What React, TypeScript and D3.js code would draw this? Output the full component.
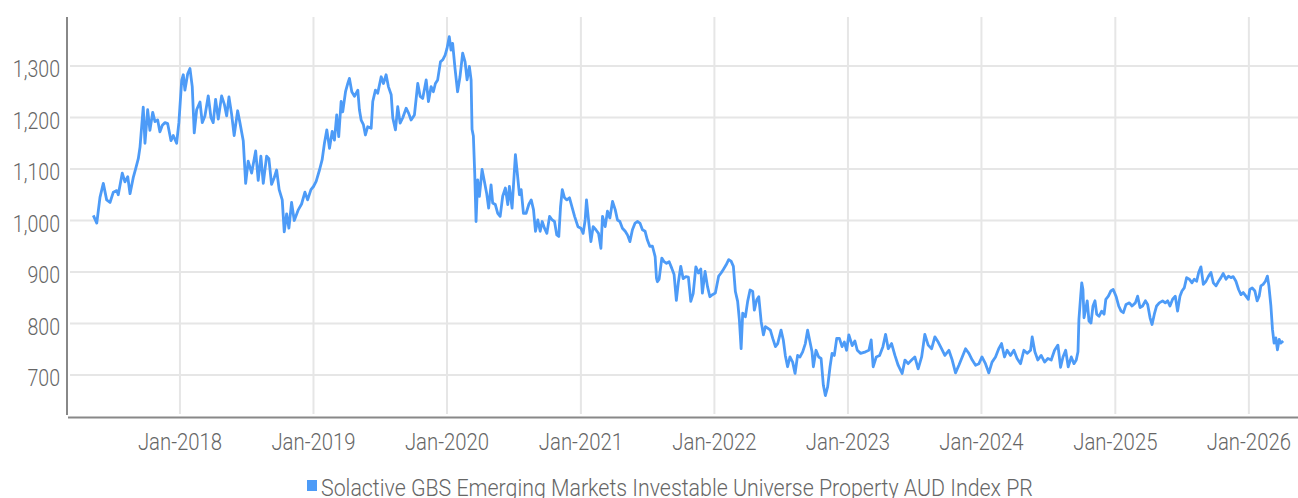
import React from "react";
import * as d3 from "d3";

// Decimal-year / index value pairs, grouped by year
const s2017: [number, number][] = [[2017.351,1010],[2017.377,995],[2017.401,1045],[2017.426,1072],[2017.451,1040],[2017.476,1035],[2017.501,1055],[2017.526,1058],[2017.538,1050],[2017.568,1092],[2017.588,1075],[2017.609,1085],[2017.626,1052],[2017.650,1083],[2017.668,1100],[2017.688,1120],[2017.701,1143],[2017.713,1182],[2017.725,1220],[2017.738,1150],[2017.758,1215],[2017.775,1175],[2017.796,1210],[2017.813,1192],[2017.833,1195],[2017.850,1172],[2017.868,1185],[2017.888,1190],[2017.908,1188],[2017.933,1155],[2017.950,1165],[2017.975,1150],[2017.992,1190]];
const s2018: [number, number][] = [[2018.013,1272],[2018.025,1283],[2018.037,1253],[2018.058,1285],[2018.075,1295],[2018.092,1260],[2018.107,1170],[2018.125,1215],[2018.150,1230],[2018.167,1190],[2018.187,1203],[2018.212,1242],[2018.232,1200],[2018.249,1190],[2018.267,1235],[2018.287,1197],[2018.312,1242],[2018.332,1226],[2018.350,1203],[2018.367,1240],[2018.387,1206],[2018.406,1165],[2018.432,1213],[2018.449,1190],[2018.474,1155],[2018.492,1072],[2018.511,1115],[2018.537,1092],[2018.567,1135],[2018.586,1078],[2018.606,1125],[2018.624,1072],[2018.649,1125],[2018.666,1120],[2018.686,1070],[2018.706,1083],[2018.724,1098],[2018.743,1060],[2018.766,1040],[2018.781,978],[2018.799,1013],[2018.816,985],[2018.836,1035],[2018.856,1000],[2018.885,1020],[2018.911,1032],[2018.936,1055],[2018.956,1040],[2018.981,1060]];
const s2019: [number, number][] = [[2019.000,1066],[2019.020,1076],[2019.045,1098],[2019.065,1118],[2019.082,1150],[2019.100,1176],[2019.120,1140],[2019.140,1173],[2019.157,1156],[2019.174,1205],[2019.189,1163],[2019.207,1231],[2019.219,1211],[2019.240,1250],[2019.257,1266],[2019.269,1276],[2019.287,1250],[2019.307,1241],[2019.332,1253],[2019.344,1215],[2019.357,1195],[2019.374,1186],[2019.389,1166],[2019.406,1182],[2019.432,1179],[2019.444,1231],[2019.464,1253],[2019.481,1247],[2019.507,1279],[2019.524,1266],[2019.544,1283],[2019.561,1260],[2019.582,1244],[2019.594,1199],[2019.614,1176],[2019.631,1221],[2019.649,1189],[2019.668,1199],[2019.694,1218],[2019.713,1208],[2019.731,1195],[2019.756,1205],[2019.781,1266],[2019.799,1241],[2019.818,1237],[2019.844,1273],[2019.861,1231],[2019.881,1260],[2019.898,1250],[2019.913,1266],[2019.930,1273],[2019.951,1308],[2019.968,1312],[2019.986,1321]];
const s2020: [number, number][] = [[2020.000,1334],[2020.017,1357],[2020.030,1331],[2020.042,1344],[2020.060,1295],[2020.079,1250],[2020.097,1279],[2020.117,1325],[2020.135,1308],[2020.150,1273],[2020.167,1299],[2020.180,1273],[2020.187,1177],[2020.197,1164],[2020.207,1092],[2020.217,998],[2020.229,1079],[2020.242,1047],[2020.262,1099],[2020.279,1076],[2020.296,1053],[2020.311,1024],[2020.329,1069],[2020.341,1034],[2020.361,1031],[2020.379,1014],[2020.397,1008],[2020.416,1047],[2020.436,1063],[2020.454,1031],[2020.466,1066],[2020.486,1024],[2020.496,1066],[2020.511,1128],[2020.524,1095],[2020.541,1050],[2020.554,1060],[2020.571,1014],[2020.591,1014],[2020.611,1031],[2020.629,1040],[2020.646,1021],[2020.661,979],[2020.678,1001],[2020.696,979],[2020.711,998],[2020.728,985],[2020.746,975],[2020.766,1008],[2020.786,1001],[2020.803,998],[2020.820,972],[2020.835,969],[2020.848,1027],[2020.861,1060],[2020.878,1044],[2020.895,1040],[2020.915,1044],[2020.936,1024],[2020.953,1008],[2020.978,988]];
const s2021: [number, number][] = [[2021.000,985],[2021.017,975],[2021.032,1001],[2021.042,1040],[2021.057,1001],[2021.075,959],[2021.092,988],[2021.112,982],[2021.132,975],[2021.150,946],[2021.162,1008],[2021.182,988],[2021.199,1018],[2021.217,1005],[2021.237,1037],[2021.257,1021],[2021.274,1001],[2021.292,998],[2021.311,985],[2021.332,979],[2021.349,972],[2021.367,959],[2021.386,982],[2021.406,995],[2021.424,998],[2021.442,995],[2021.461,982],[2021.481,979],[2021.498,962],[2021.516,950],[2021.536,950],[2021.556,930],[2021.566,888],[2021.573,881],[2021.586,886],[2021.606,927],[2021.623,920],[2021.641,917],[2021.661,920],[2021.681,907],[2021.698,895],[2021.715,845],[2021.730,880],[2021.748,911],[2021.766,887],[2021.786,891],[2021.805,890],[2021.823,843],[2021.841,858],[2021.861,910],[2021.880,898],[2021.898,906],[2021.910,859],[2021.930,901],[2021.948,872],[2021.966,852],[2021.985,856]];
const s2022: [number, number][] = [[2022.007,859],[2022.032,892],[2022.050,898],[2022.067,905],[2022.088,914],[2022.107,924],[2022.125,921],[2022.142,911],[2022.157,862],[2022.174,843],[2022.187,807],[2022.200,751],[2022.212,820],[2022.232,813],[2022.249,843],[2022.267,865],[2022.287,862],[2022.299,826],[2022.317,846],[2022.332,852],[2022.350,804],[2022.367,778],[2022.382,794],[2022.399,791],[2022.419,787],[2022.437,771],[2022.457,755],[2022.474,761],[2022.499,787],[2022.516,768],[2022.531,738],[2022.548,716],[2022.566,735],[2022.586,725],[2022.604,703],[2022.623,738],[2022.641,735],[2022.661,745],[2022.681,761],[2022.698,787],[2022.716,764],[2022.731,745],[2022.741,716],[2022.761,748],[2022.781,735],[2022.799,732],[2022.816,680],[2022.831,660],[2022.848,677],[2022.866,716],[2022.881,742],[2022.898,738],[2022.916,771],[2022.936,771],[2022.956,755],[2022.973,764],[2022.990,748]];
const s2023: [number, number][] = [[2023.007,778],[2023.032,757],[2023.052,766],[2023.070,748],[2023.095,742],[2023.132,745],[2023.157,748],[2023.174,768],[2023.189,716],[2023.212,735],[2023.237,738],[2023.262,755],[2023.282,779],[2023.302,751],[2023.327,761],[2023.352,738],[2023.376,719],[2023.406,703],[2023.427,729],[2023.451,722],[2023.477,729],[2023.501,735],[2023.526,712],[2023.552,735],[2023.576,779],[2023.601,758],[2023.627,751],[2023.651,774],[2023.676,764],[2023.701,751],[2023.726,738],[2023.756,748],[2023.781,729],[2023.806,704],[2023.831,719],[2023.856,735],[2023.881,751],[2023.906,742],[2023.931,729],[2023.956,719],[2023.981,722]];
const s2024: [number, number][] = [[2024.004,735],[2024.030,722],[2024.055,704],[2024.079,725],[2024.105,735],[2024.129,751],[2024.150,761],[2024.172,735],[2024.192,748],[2024.217,738],[2024.242,748],[2024.266,732],[2024.292,722],[2024.317,748],[2024.341,742],[2024.367,748],[2024.379,774],[2024.399,745],[2024.421,729],[2024.446,738],[2024.472,725],[2024.496,732],[2024.521,729],[2024.546,748],[2024.571,758],[2024.591,715],[2024.609,735],[2024.629,748],[2024.648,716],[2024.671,735],[2024.691,722],[2024.708,729],[2024.721,745],[2024.728,808],[2024.741,853],[2024.749,879],[2024.758,866],[2024.766,811],[2024.778,827],[2024.790,844],[2024.803,805],[2024.818,801],[2024.833,834],[2024.848,844],[2024.861,818],[2024.878,814],[2024.898,824],[2024.916,818],[2024.929,847],[2024.948,853],[2024.966,863],[2024.984,866]];
const s2025: [number, number][] = [[2025.005,853],[2025.025,834],[2025.043,824],[2025.060,821],[2025.080,837],[2025.105,840],[2025.125,834],[2025.150,840],[2025.167,853],[2025.185,831],[2025.204,834],[2025.225,844],[2025.242,837],[2025.260,811],[2025.275,798],[2025.292,818],[2025.309,834],[2025.329,840],[2025.354,844],[2025.374,840],[2025.392,844],[2025.409,834],[2025.429,847],[2025.449,853],[2025.466,824],[2025.484,853],[2025.499,863],[2025.516,869],[2025.534,889],[2025.554,886],[2025.574,879],[2025.591,886],[2025.609,882],[2025.624,899],[2025.641,910],[2025.659,876],[2025.679,882],[2025.698,892],[2025.716,899],[2025.734,879],[2025.754,873],[2025.773,882],[2025.791,889],[2025.808,897],[2025.829,886],[2025.848,892],[2025.866,889],[2025.883,891],[2025.903,882],[2025.923,866],[2025.941,856],[2025.958,860],[2025.978,853],[2025.996,847]];
const s2026: [number, number][] = [[2026.007,866],[2026.025,869],[2026.045,863],[2026.062,844],[2026.077,853],[2026.090,873],[2026.107,876],[2026.124,882],[2026.139,892],[2026.150,873],[2026.165,834],[2026.177,788],[2026.189,762],[2026.202,772],[2026.214,749],[2026.227,769],[2026.240,762],[2026.257,766]];

const yTicks = [700, 800, 900, 1000, 1100, 1200, 1300];
const xTickYears = [2018, 2019, 2020, 2021, 2022, 2023, 2024, 2025, 2026];
const xDomainYears = [2017.154, 2026.368];
const yDomain = [622.3, 1395.1];
const seriesName = "Solactive GBS Emerging Markets Investable Universe Property AUD Index PR";

const W = 1298;
const H = 498;
const LEFT = 67;
const TOP = 17;
const BOTTOM = 415;
const LINE_COLOR = "#4d9bf7";
const FONT = "Roboto, 'Liberation Sans', sans-serif";
const FS = 24.5;

function yearToDate(t: number): Date {
  const y = Math.floor(t);
  const a = Date.UTC(y, 0, 1);
  const b = Date.UTC(y + 1, 0, 1);
  return new Date(a + (t - y) * (b - a));
}

export default function App() {
  const series = [...s2017, ...s2018, ...s2019, ...s2020, ...s2021, ...s2022, ...s2023, ...s2024, ...s2025, ...s2026];
  const x = d3.scaleUtc().domain(xDomainYears.map(yearToDate)).range([LEFT, W]);
  const y = d3.scaleLinear().domain(yDomain).range([BOTTOM, TOP]);
  const line = d3
    .line<[number, number]>()
    .x((d) => x(yearToDate(d[0])))
    .y((d) => y(d[1]))
    .curve(d3.curveLinear);
  const fmt = d3.format(",");

  return (
    <svg
      width={W}
      height={H}
      style={{ position: "absolute", left: 0, top: 0, background: "#fff" }}
      fontFamily={FONT}
    >
      {yTicks.map((v) => (
        <line key={"hg" + v} x1={LEFT + 3} x2={W} y1={y(v)} y2={y(v)} stroke="#e6e6e6" strokeWidth={2} />
      ))}
      {xTickYears.map((yr) => (
        <line
          key={"vg" + yr}
          x1={x(yearToDate(yr))}
          x2={x(yearToDate(yr))}
          y1={TOP}
          y2={BOTTOM - 1}
          stroke="#e6e6e6"
          strokeWidth={2}
        />
      ))}
      <line x1={LEFT} x2={LEFT} y1={TOP} y2={BOTTOM} stroke="#888" strokeWidth={2} />
      <line x1={LEFT + 1} x2={W} y1={BOTTOM + 2.5} y2={BOTTOM + 2.5} stroke="#888" strokeWidth={2} />
      {yTicks.map((v) => (
        <text
          key={"yl" + v}
          transform={`translate(60,${y(v) + 11.3}) scale(0.8,1)`}
          textAnchor="end"
          fontSize={FS}
          fill="#666"
          fontWeight={300}
        >
          {fmt(v)}
        </text>
      ))}
      {xTickYears.map((yr) => (
        <text
          key={"xl" + yr}
          transform={`translate(${x(yearToDate(yr))},450) scale(0.83,1)`}
          textAnchor="middle"
          fontSize={FS}
          fill="#666"
          fontWeight={300}
        >
          {"Jan-" + yr}
        </text>
      ))}
      <path d={line(series) || ""} fill="none" stroke={LINE_COLOR} strokeWidth={2.8} strokeLinejoin="round" />
      <rect x={307} y={480} width={10} height={11} fill={LINE_COLOR} />
      <text
        transform="translate(321,495.5) scale(0.872,1)"
        fontSize={FS}
        fill="#666"
        fontWeight={300}
      >
        {seriesName}
      </text>
    </svg>
  );
}
